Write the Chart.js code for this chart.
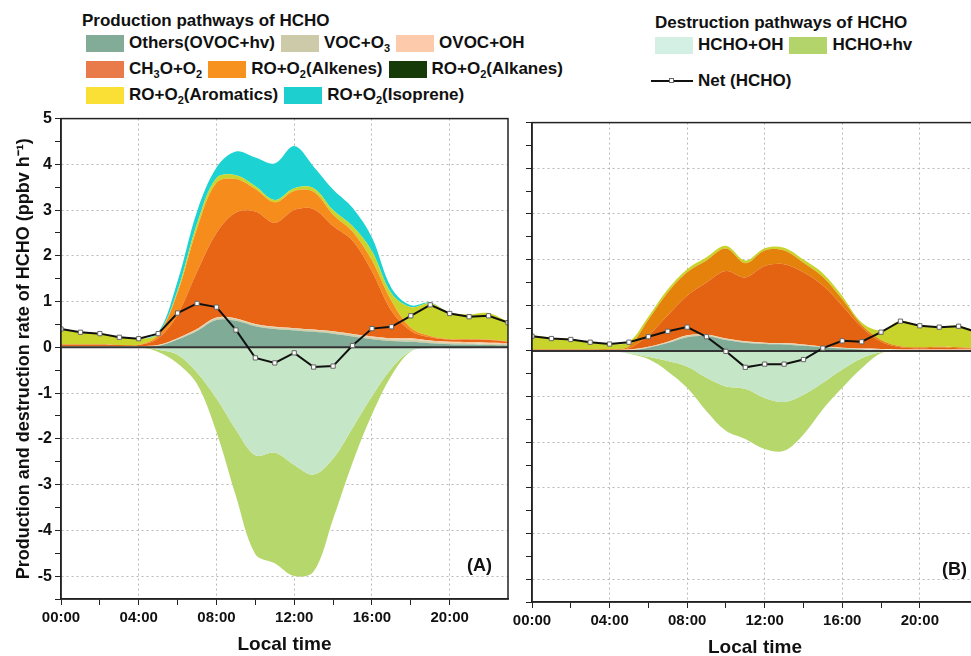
<!DOCTYPE html>
<html>
<head>
<meta charset="utf-8">
<script src="https://cdn.jsdelivr.net/npm/chart.js@4.4.1/dist/chart.umd.min.js"></script>
<style>
  body { margin:0; width:971px; height:656px; overflow:hidden; position:relative; background:#fff;
         font-family:"Liberation Sans", Arial, sans-serif; font-weight:bold; color:#111; }
  canvas { position:absolute; }
  #chartA { left:0; top:106px; }
  #chartB { left:504px; top:110px; }
  .ltitle { position:absolute; white-space:nowrap; font-size:17px; line-height:20px; }
  .row { position:absolute; display:flex; align-items:center; white-space:nowrap; font-size:17px; line-height:20px; height:20px; }
  .item { display:flex; align-items:center; margin-right:6px; }
  .sw { width:38px; height:17px; margin-right:5px; }
  sub { font-size:11px; vertical-align:-4px; line-height:0; }
  .netline { position:relative; width:42px; height:2px; background:#111; margin-right:5px; }
  .netline span { position:absolute; left:18px; top:-2px; width:5px; height:5px; background:#fff; border:1px solid #666; box-sizing:border-box; }
</style>
</head>
<body>
<div class="ltitle" style="left:82px;top:11px">Production pathways of HCHO</div>
<div class="row" id="prodRow1" style="left:86px;top:33px"></div>
<div class="row" id="prodRow2" style="left:86px;top:59px"></div>
<div class="row" id="prodRow3" style="left:86px;top:85px"></div>
<div class="ltitle" style="left:655px;top:13px">Destruction pathways of HCHO</div>
<div class="row" id="destRow" style="left:655px;top:35px"></div>
<div class="row" id="netRow" style="left:651px;top:71px"></div>

<canvas id="chartA" width="520" height="550"></canvas>
<canvas id="chartB" width="486" height="556"></canvas>

<script>
// hourly values, 00:00 ... 23:00
const hours = [0,1,2,3,4,5,6,7,8,9,10,11,12,13,14,15,16,17,18,19,20,21,22,23];
const xTickLabels = ['00:00','04:00','08:00','12:00','16:00','20:00'];

const prodNames = ['Others(OVOC+hv)','VOC+O3','OVOC+OH','CH3O+O2','RO+O2(Alkenes)','RO+O2(Alkanes)','RO+O2(Aromatics)','RO+O2(Isoprene)'];
const destNames = ['HCHO+OH','HCHO+hv'];
const netName = 'Net (HCHO)';

// colours of the filled areas (per panel) and of the legend boxes
const prodFillA = ['#80ab97','#d2cfa9','#f6c7a4','#e86516','#f58c1c','#1b3b06','#cad52c','#1cd2d2'];
const prodFillB = ['#80ab97','#d2cfa9','#f6c7a4','#e36312','#e4820c','#1b3b06','#c8d42b','#1cd2d2'];
const prodSwatch = ['#82ab98','#cccaa9','#fdcbab','#e87b49','#f7921f','#163a08','#fadf35','#1ecfd0'];
const destFill = ['#c6e6c8','#b6d76c'];
const destSwatch = ['#d4efe4','#b3d46b'];

// panel (A)
const othersA   = [0.01,0.01,0.01,0.01,0.01,0.03,0.17,0.36,0.60,0.58,0.46,0.40,0.37,0.34,0.30,0.24,0.18,0.14,0.12,0.09,0.07,0.06,0.05,0.04];
const vocO3A    = [0.01,0.01,0.01,0.01,0.01,0.01,0.02,0.03,0.04,0.04,0.04,0.04,0.04,0.04,0.04,0.04,0.04,0.04,0.05,0.04,0.03,0.03,0.03,0.03];
const ovocOHA   = [0.01,0.01,0.01,0.01,0.01,0.01,0.01,0.01,0.01,0.01,0.01,0.01,0.01,0.01,0.01,0.01,0.02,0.02,0.03,0.02,0.02,0.02,0.02,0.02];
const ch3oA     = [0.03,0.03,0.03,0.02,0.02,0.15,0.52,1.25,1.85,2.32,2.46,2.27,2.58,2.63,2.30,2.04,1.42,0.60,0.16,0.07,0.05,0.06,0.06,0.03];
const alkenesA  = [0,0,0,0,0,0.07,0.48,0.95,1.10,0.73,0.49,0.45,0.42,0.38,0.25,0.20,0.24,0.22,0.07,0.03,0.01,0.01,0.01,0.01];
const alkanesA  = [0,0,0,0,0,0,0,0,0,0,0,0,0,0,0,0,0,0,0,0,0,0,0,0];
const aromaticsA= [0.36,0.28,0.25,0.18,0.14,0.03,0.05,0.10,0.10,0.08,0.06,0.05,0.06,0.08,0.10,0.12,0.20,0.16,0.45,0.72,0.58,0.54,0.58,0.43];
const isopreneA = [0,0,0,0,0,0.02,0.20,0.27,0.23,0.52,0.63,0.80,0.92,0.47,0.45,0.40,0.30,0.12,0.04,0.01,0,0,0,0];
const hchoOHA   = [0,0,0,0,0,-0.05,-0.16,-0.55,-1.12,-1.80,-2.36,-2.30,-2.57,-2.78,-2.43,-1.76,-1.07,-0.46,-0.08,-0.02,-0.02,-0.02,-0.01,-0.01];
const hchoHvA   = [0,0,0,0,0,-0.05,-0.19,-0.25,-0.73,-1.45,-2.16,-2.42,-2.43,-2.12,-1.32,-0.76,-0.40,-0.16,-0.01,0,0,0,0,0];
const netA      = [0.40,0.33,0.30,0.22,0.19,0.30,0.75,0.96,0.88,0.38,-0.23,-0.34,-0.12,-0.43,-0.41,0.04,0.41,0.45,0.69,0.93,0.74,0.67,0.69,0.54];

// panel (B)
const othersB   = [0.01,0.01,0.01,0.01,0.01,0.01,0.07,0.17,0.30,0.32,0.24,0.18,0.15,0.14,0.11,0.08,0.05,0.03,0.02,0.01,0.01,0.01,0.01,0.01];
const vocO3B    = [0,0,0,0,0,0.01,0.01,0.02,0.03,0.03,0.02,0.02,0.02,0.02,0.02,0.01,0.01,0.01,0.01,0.01,0.01,0.01,0.01,0.01];
const ovocOHB   = [0.01,0.01,0.01,0.01,0.01,0.01,0.01,0.01,0.01,0.01,0.01,0.01,0.01,0.01,0.01,0.01,0.01,0.01,0.01,0.01,0.01,0.01,0.01,0.01];
const ch3oB     = [0.01,0.01,0.01,0.01,0.01,0.03,0.25,0.58,0.87,1.14,1.48,1.40,1.68,1.73,1.58,1.33,0.92,0.47,0.16,0.05,0.03,0.04,0.03,0.02];
const alkenesB  = [0,0,0,0,0,0.04,0.34,0.50,0.51,0.48,0.49,0.31,0.34,0.30,0.21,0.19,0.14,0.05,0.04,0.02,0.02,0.02,0.02,0.01];
const alkanesB  = [0,0,0,0,0,0,0,0,0,0,0,0,0,0,0,0,0,0,0,0,0,0,0,0];
const aromaticsB= [0.31,0.26,0.23,0.17,0.12,0.10,0.07,0.07,0.07,0.07,0.06,0.06,0.05,0.06,0.07,0.08,0.07,0.05,0.21,0.56,0.48,0.44,0.47,0.36];
const isopreneB = [0,0,0,0,0,0,0,0,0,0,0,0,0,0,0,0,0,0,0,0,0,0,0,0];
const hchoOHB   = [0,0,0,0,0,-0.05,-0.13,-0.22,-0.34,-0.59,-0.78,-0.83,-1.03,-1.12,-0.96,-0.70,-0.41,-0.16,-0.03,-0.01,-0.01,-0.01,-0.01,-0.01];
const hchoHvB   = [0,0,0,0,0,-0.01,-0.05,-0.23,-0.47,-0.73,-0.97,-1.10,-1.12,-1.07,-0.87,-0.58,-0.40,-0.22,-0.02,0,0,0,0,0];
const netB      = [0.32,0.27,0.25,0.19,0.15,0.19,0.31,0.43,0.52,0.31,-0.01,-0.36,-0.29,-0.29,-0.19,0.06,0.22,0.20,0.41,0.65,0.55,0.52,0.54,0.40];

const FONT = '"Liberation Sans", Arial, sans-serif';

// legend (html so the subscripts come out right)
function withSubs(name) {
  return name.replace(/([A-Z])(\d)/g, '$1<sub>$2</sub>');
}
function addItems(rowId, idxs, names, colors) {
  const row = document.getElementById(rowId);
  idxs.forEach(function(i) {
    const item = document.createElement('div');
    item.className = 'item';
    item.innerHTML = '<div class="sw" style="background:' + colors[i] + '"></div><span>' + withSubs(names[i]) + '</span>';
    row.appendChild(item);
  });
}
addItems('prodRow1', [0,1,2], prodNames, prodSwatch);
addItems('prodRow2', [3,4,5], prodNames, prodSwatch);
addItems('prodRow3', [6,7], prodNames, prodSwatch);
addItems('destRow', [0,1], destNames, destSwatch);
document.getElementById('netRow').innerHTML = '<div class="netline"><span></span></div><span>' + netName + '</span>';

function toXY(vals) {
  return vals.map(function(v, i) { return {x: hours[i], y: v}; });
}

function buildDatasets(prod, dest, net, prodFill) {
  let ds = [{
    label: netName,
    data: toXY(net),
    stack: 'net',
    fill: false,
    borderColor: '#111',
    borderWidth: 2,
    tension: 0,
    pointStyle: 'rect',
    pointRadius: 3,
    pointBackgroundColor: '#fff',
    pointBorderColor: '#666',
    pointBorderWidth: 1
  }];
  prod.forEach(function(vals, i) {
    ds.push({
      label: prodNames[i], data: toXY(vals), stack: 'prod',
      fill: i === 0 ? 'origin' : '-1',
      backgroundColor: prodFill[i], borderWidth: 0, pointRadius: 0,
      tension: 0.35
    });
  });
  dest.forEach(function(vals, i) {
    ds.push({
      label: destNames[i], data: toXY(vals), stack: 'dest',
      fill: i === 0 ? 'origin' : '-1',
      backgroundColor: destFill[i], borderWidth: 0, pointRadius: 0,
      tension: 0.35
    });
  });
  return ds;
}

// zero line under the net curve, frame and panel tag
const panelPlugin = {
  id: 'panel',
  beforeDatasetDraw(chart, args) {
    if (args.index !== 0) return;
    const {ctx, chartArea: a, scales: {y}} = chart;
    const y0 = y.getPixelForValue(0);
    ctx.save();
    ctx.strokeStyle = '#333';
    ctx.lineWidth = 2;
    ctx.beginPath();
    ctx.moveTo(a.left, y0);
    ctx.lineTo(a.right, y0);
    ctx.stroke();
    ctx.restore();
  },
  afterDatasetsDraw(chart, args, opts) {
    const {ctx, chartArea: a, scales: {y}} = chart;
    ctx.save();
    ctx.strokeStyle = '#222';
    ctx.lineWidth = 1.5;
    ctx.strokeRect(a.left, a.top, a.right - a.left, a.bottom - a.top);
    ctx.font = 'bold 18px ' + FONT;
    ctx.fillStyle = '#111';
    ctx.textAlign = 'left';
    ctx.textBaseline = 'middle';
    ctx.fillText(opts.tag, a.left + opts.tagX, y.getPixelForValue(-4.79));
    ctx.restore();
  }
};

function makeChart(id, prod, dest, net, opts) {
  return new Chart(document.getElementById(id), {
    type: 'line',
    data: { datasets: buildDatasets(prod, dest, net, opts.fill) },
    plugins: [panelPlugin],
    options: {
      responsive: false,
      animation: false,
      devicePixelRatio: 1,
      events: [],
      layout: { padding: opts.padding },
      plugins: {
        legend: { display: false },
        tooltip: { enabled: false },
        panel: { tag: opts.tag, tagX: opts.tagX }
      },
      scales: {
        x: {
          type: 'linear', min: 0, max: 23,
          afterBuildTicks: function(s) { s.ticks = s.ticks.filter(function(t) { return t.value % 2 === 0; }); },
          afterFit: function(s) { s.height = opts.xHeight; },
          ticks: {
            stepSize: 2, autoSkip: false, maxRotation: 0, padding: 4, color: '#111',
            font: { family: FONT, size: 15, weight: 'bold' },
            callback: function(v) { return v % 4 === 0 ? xTickLabels[v / 4] : ''; }
          },
          grid: {
            color: function(c) { return (c.tick && c.tick.value % 4 === 0 && c.tick.value > 0) ? '#b8b8b8' : 'rgba(0,0,0,0)'; },
            tickColor: '#222', tickLength: 6, lineWidth: 1
          },
          border: { color: '#222', width: 1.5, dash: [2, 3] },
          title: {
            display: true, text: 'Local time', color: '#111',
            font: { family: FONT, size: 19, weight: 'bold' },
            padding: { top: 0, bottom: opts.titleBottom }
          }
        },
        y: {
          stacked: true, min: -5.5, max: 5,
          afterFit: function(s) { s.width = opts.yWidth; },
          ticks: {
            stepSize: 0.5, autoSkip: false, padding: 3, color: '#111',
            font: { family: FONT, size: 16, weight: 'bold' },
            callback: function(v) { return (opts.yLabels && Number.isInteger(v)) ? v : ''; }
          },
          grid: {
            color: function(c) { return (c.tick && Number.isInteger(c.tick.value)) ? '#b8b8b8' : 'rgba(0,0,0,0)'; },
            tickColor: '#222', tickLength: 6, lineWidth: 1
          },
          border: { color: '#222', width: 1.5, dash: [2, 3] },
          title: {
            display: opts.yLabels,
            text: 'Production and destruction rate of HCHO (ppbv h\u207B\u00B9)',
            color: '#111',
            font: { family: FONT, size: 18, weight: 'bold' },
            padding: { top: 13, bottom: 0 }
          }
        }
      }
    }
  });
}

makeChart('chartA',
  [othersA, vocO3A, ovocOHA, ch3oA, alkenesA, alkanesA, aromaticsA, isopreneA],
  [hchoOHA, hchoHvA], netA,
  { fill: prodFillA, padding: {top: 10, right: 12, left: 0, bottom: 0}, xHeight: 57, yWidth: 61, titleBottom: 0, yLabels: true, tag: '(A)', tagX: 406 });

makeChart('chartB',
  [othersB, vocO3B, ovocOHB, ch3oB, alkenesB, alkanesB, aromaticsB, isopreneB],
  [hchoOHB, hchoHvB], netB,
  { fill: prodFillB, padding: {top: 10, right: 12, left: 20, bottom: 0}, xHeight: 64, yWidth: 8, titleBottom: 7, yLabels: false, tag: '(B)', tagX: 410 });
</script>
</body>
</html>
